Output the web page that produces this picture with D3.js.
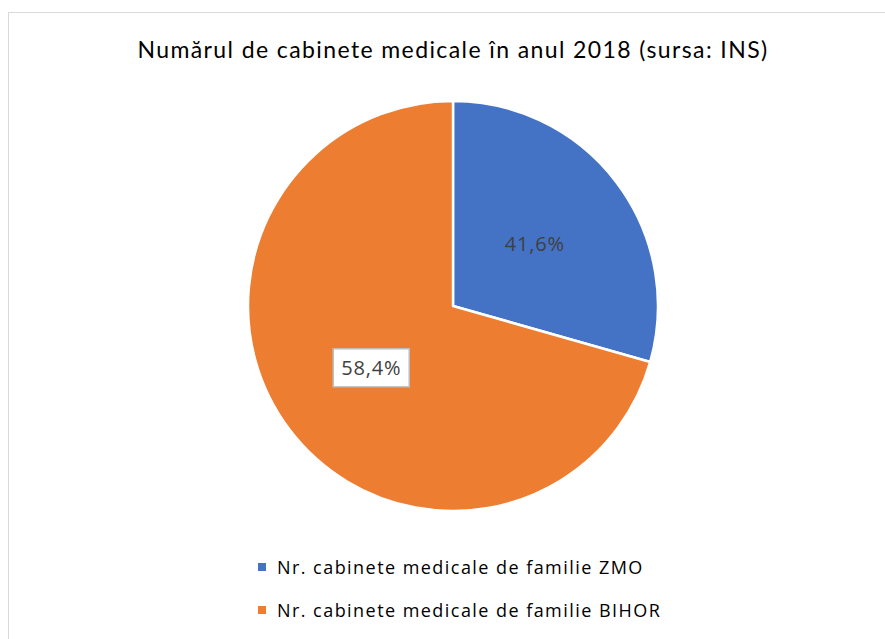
<!DOCTYPE html>
<html>
<head>
<meta charset="utf-8">
<script src="https://cdn.jsdelivr.net/npm/d3@7"></script>
<style>
  body { margin: 0; background: #fff; }
  text { font-family: "Open Sans", sans-serif; }
</style>
</head>
<body>
<div id="chart"></div>
<script>
// chart data
var categories = ["Nr. cabinete medicale de familie ZMO", "Nr. cabinete medicale de familie BIHOR"];
var sliceValues = [29.4, 70.6];
var labelTexts = ["41,6%", "58,4%"];
var colors = ["#4472c4", "#ed7d31"];

var width = 885;
var height = 639;
var cx = 453, cy = 306, radius = 205;

var svg = d3.select("#chart")
  .append("svg")
  .attr("width", width)
  .attr("height", height);

// chart frame (runs off the page on the right and bottom)
svg.append("rect")
  .attr("x", 8.5)
  .attr("y", 12.5)
  .attr("width", width + 20)
  .attr("height", height + 20)
  .attr("fill", "#fff")
  .attr("stroke", "#d9d9d9")
  .attr("stroke-width", 1);

// title
svg.append("text")
  .attr("x", 453)
  .attr("y", 58)
  .attr("text-anchor", "middle")
  .style("font-family", "Lato, sans-serif")
  .attr("font-size", 23)
  .attr("letter-spacing", 1.4)
  .attr("fill", "#000")
  .text("Numărul de cabinete medicale în anul 2018 (sursa: INS)");

var pie = d3.pie().sort(null).value(function(d) { return d; });
var arc = d3.arc().innerRadius(0).outerRadius(radius);
var arcs = pie(sliceValues);

var g = svg.append("g").attr("transform", "translate(" + cx + "," + cy + ")");

g.selectAll("path")
  .data(arcs)
  .enter()
  .append("path")
  .attr("d", arc)
  .attr("fill", function(d, i) { return colors[i]; })
  .attr("stroke", "#fff")
  .attr("stroke-width", 2.5)
  .attr("stroke-linejoin", "round");

// data labels
arcs.forEach(function(d, i) {
  var c = arc.centroid(d);
  if (i === 1) {
    g.append("rect")
      .attr("x", c[0] - 38)
      .attr("y", c[1] - 19)
      .attr("width", 76)
      .attr("height", 38)
      .attr("fill", "#fff")
      .attr("stroke", "#bfbfbf")
      .attr("stroke-width", 1.5);
  }
  g.append("text")
    .attr("x", c[0])
    .attr("y", c[1])
    .attr("dy", "0.36em")
    .attr("text-anchor", "middle")
    .attr("font-size", 20)
    .attr("letter-spacing", 0.8)
    .attr("fill", "#404040")
    .text(labelTexts[i]);
});

// legend
var legend = svg.append("g");
categories.forEach(function(name, i) {
  var base = 574 + i * 43;
  legend.append("rect")
    .attr("x", 258)
    .attr("y", base - 11)
    .attr("width", 8)
    .attr("height", 8)
    .attr("fill", colors[i]);
  legend.append("text")
    .attr("x", 277)
    .attr("y", base)
    .attr("font-size", 18)
    .attr("letter-spacing", 1.45)
    .attr("fill", "#000")
    .text(name);
});
</script>
</body>
</html>
